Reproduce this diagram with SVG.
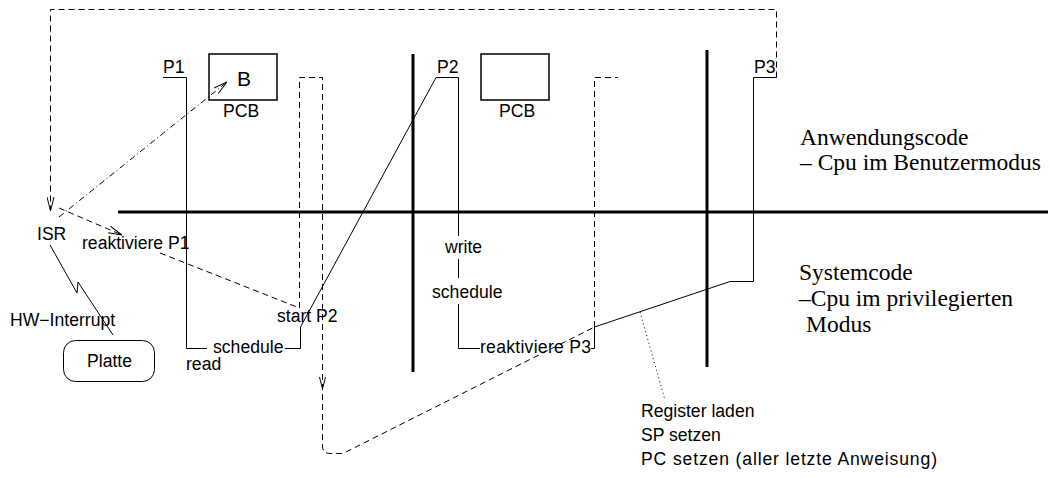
<svg xmlns="http://www.w3.org/2000/svg" width="1049" height="478" viewBox="0 0 1049 478">
  <style>
    .ln { fill: none; stroke: #000; stroke-width: 1; }
    .thick { fill: none; stroke: #000; stroke-width: 3; }
    .dash { fill: none; stroke: #000; stroke-width: 1; stroke-dasharray: 6 4; }
    .dashdot { fill: none; stroke: #000; stroke-width: 1; stroke-dasharray: 6 3 1 3; }
    .dot { fill: none; stroke: #000; stroke-width: 1; stroke-dasharray: 1 3; }
    .box { fill: none; stroke: #000; stroke-width: 1.5; }
    .t { font-family: "Liberation Sans", Arial, sans-serif; font-size: 17.6px; fill: #000; }
    .big { font-family: "Liberation Sans", Arial, sans-serif; font-size: 21px; fill: #000; }
    .s { font-family: "Liberation Serif", "Times New Roman", serif; font-size: 23.5px; fill: #000; }
  </style>
  <defs>
    <marker id="vee" viewBox="0 0 14 8" refX="14" refY="4" markerWidth="14" markerHeight="8" markerUnits="userSpaceOnUse" orient="auto">
      <path d="M0,0.5 L14,4 L0,7.5" fill="none" stroke="#000" stroke-width="1"/>
    </marker>
  </defs>

  <!-- mode boundary and time slices -->
  <g id="axes">
    <line class="thick" x1="118" y1="212" x2="1048" y2="212"/>
    <line class="thick" x1="413" y1="54" x2="413" y2="372"/>
    <line class="thick" x1="707" y1="50" x2="707" y2="367"/>
  </g>

  <g id="connectors">
    <!-- return path from P3 to the ISR -->
    <polyline class="dash" points="776.5,77.5 776.5,9.5 50.5,9.5 50.5,211" marker-end="url(#vee)"/>

    <!-- interrupt to ISR: save context into PCB B -->
    <line class="dashdot" x1="59" y1="217" x2="227" y2="82" marker-end="url(#vee)"/>
    <line class="dash" x1="59" y1="208" x2="122" y2="235" marker-end="url(#vee)"/>

    <!-- lightning from disk to ISR -->
    <polyline class="ln" points="50,245 77,293 78,282 113,335"/>

    <!-- P1 execution -->
    <polyline class="ln" points="163,77.5 186.5,77.5 186.5,348.5 207,348.5"/>
    <polyline class="ln" points="285,348.5 300.5,348.5 300.5,327 436,77.5 458.5,77.5 458.5,236"/>

    <!-- P2 execution -->
    <line class="ln" x1="458.5" y1="259" x2="458.5" y2="278"/>
    <polyline class="ln" points="458.5,304 458.5,348.5 480,348.5"/>
    <polyline class="ln" points="591,348.5 594.5,348.5 594.5,327 730,281.5 753.5,281.5 753.5,77.5 776.5,77.5"/>

    <!-- P1 waiting, reactivated -->
    <path class="dash" d="M160,253 L299.5,308 L299.5,77.5 L322.5,77.5 L322.5,446 Q322.5,453.5 330,453.5 L343,453.5 L594.5,327"/>
    <polyline class="ln" points="319.5,377 322.5,389 325.5,377"/>

    <!-- P2 waiting -->
    <polyline class="dash" points="594.5,327 594.5,77.5 618,77.5"/>

    <!-- annotation pointer -->
    <line class="dot" x1="640" y1="312" x2="665" y2="400"/>
  </g>

  <g id="pcb1">
    <rect class="box" x="209" y="54" width="68" height="46"/>
    <text class="big" x="237" y="86">B</text>
    <text class="t" x="223" y="117">PCB</text>
  </g>

  <g id="pcb2">
    <rect class="box" x="481" y="54" width="68" height="46"/>
    <text class="t" x="499" y="117">PCB</text>
  </g>

  <g id="platte">
    <rect class="ln" x="63.5" y="340.5" width="91" height="41" rx="12" ry="12"/>
    <text class="t" x="87" y="367">Platte</text>
  </g>

  <g id="labels">
    <text class="t" x="163" y="73">P1</text>
    <text class="t" x="437" y="73">P2</text>
    <text class="t" x="754" y="73">P3</text>
    <text class="t" x="37" y="240">ISR</text>
    <text class="t" x="82" y="249">reaktiviere P1</text>
    <text class="t" x="10" y="326">HW−Interrupt</text>
    <text class="t" x="277" y="322">start P2</text>
    <text class="t" x="213" y="353">schedule</text>
    <text class="t" x="186" y="370">read</text>
    <text class="t" x="445" y="253">write</text>
    <text class="t" x="432" y="298">schedule</text>
    <text class="t" x="480" y="353" textLength="111">reaktiviere P3</text>
    <text class="t" x="641" y="417">Register laden</text>
    <text class="t" x="641" y="441">SP setzen</text>
    <text class="t" x="641" y="465" textLength="296">PC setzen (aller letzte Anweisung)</text>
  </g>

  <g id="modes">
    <text class="s" x="800" y="145">Anwendungscode</text>
    <text class="s" x="800" y="170">– Cpu im Benutzermodus</text>
    <text class="s" x="799" y="280">Systemcode</text>
    <text class="s" x="799" y="306">–Cpu im privilegierten</text>
    <text class="s" x="806" y="332">Modus</text>
  </g>
</svg>
